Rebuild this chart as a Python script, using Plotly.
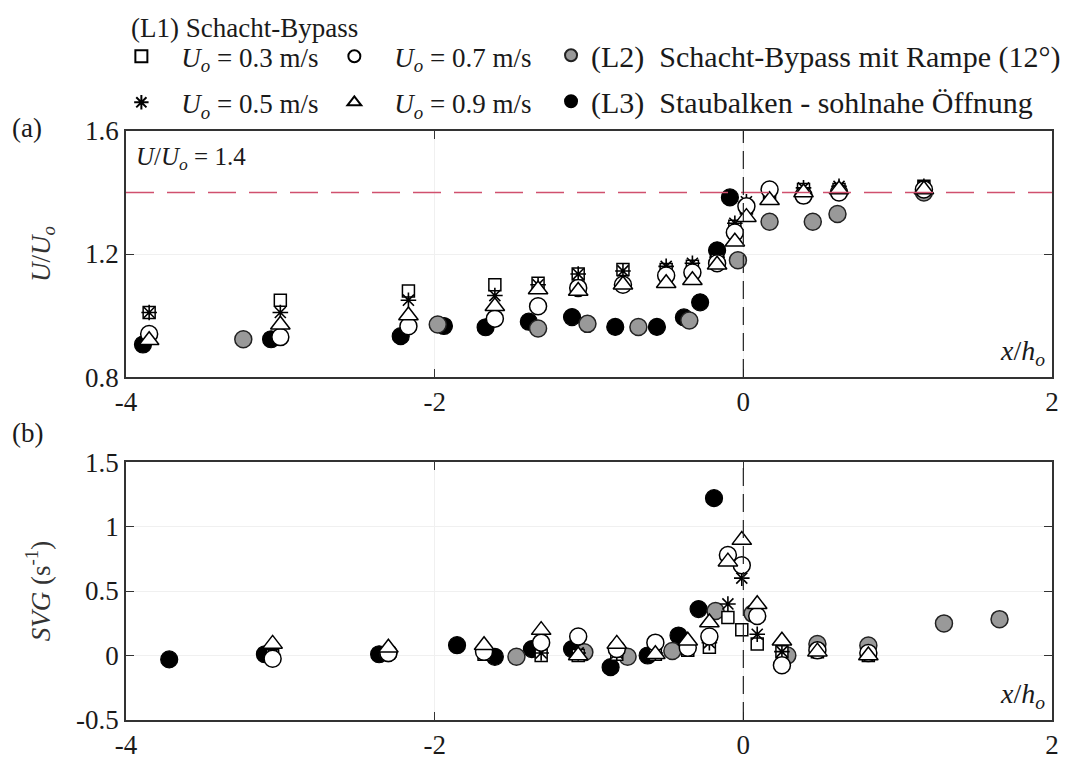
import plotly.graph_objects as go

# ---------------- data ----------------
# Panel (a): U/Uo vs x/ho
xa_L1 = [-3.85, -3.0, -2.17, -1.61, -1.33, -1.07, -0.78, -0.50, -0.33, -0.17, -0.055, 0.02, 0.17, 0.39, 0.62, 1.17]
ua_03 = [1.01, 1.05, 1.08, 1.10, 1.105, 1.135, 1.15, 1.15, 1.16, 1.18, 1.29, 1.35, 1.40, 1.41, 1.41, 1.42]
ua_05 = [1.01, 1.01, 1.05, 1.065, 1.10, 1.135, 1.145, 1.16, 1.17, 1.19, 1.30, 1.37, 1.40, 1.415, 1.42, 1.42]
ua_07 = [0.94, 0.93, 0.965, 0.99, 1.03, 1.09, 1.10, 1.13, 1.14, 1.17, 1.27, 1.355, 1.41, 1.39, 1.40, 1.41]
ua_09 = [0.92, 0.97, 1.00, 1.03, 1.085, 1.08, 1.10, 1.105, 1.115, 1.165, 1.24, 1.32, 1.375, 1.40, 1.41, 1.41]

xa_L2 = [-3.24, -1.98, -1.33, -1.01, -0.68, -0.35, -0.035, 0.17, 0.45, 0.61, 1.17]
ua_L2 = [0.923, 0.971, 0.958, 0.973, 0.963, 0.984, 1.18, 1.305, 1.305, 1.33, 1.40]

xa_L3 = [-3.89, -3.06, -2.22, -1.94, -1.67, -1.39, -1.11, -0.83, -0.56, -0.385, -0.28, -0.17, -0.087]
ua_L3 = [0.906, 0.923, 0.933, 0.966, 0.962, 0.98, 0.995, 0.963, 0.963, 0.994, 1.043, 1.212, 1.384]

# Panel (b): SVG vs x/ho
xb_L1 = [-3.05, -2.30, -1.68, -1.31, -1.07, -0.82, -0.57, -0.36, -0.22, -0.10, -0.01, 0.09, 0.25, 0.48, 0.81]
svg_03 = [0.0, 0.02, 0.01, 0.0, 0.0, 0.01, 0.01, 0.04, 0.065, 0.295, 0.20, 0.09, 0.03, 0.03, 0.0]
svg_05 = [0.01, 0.03, 0.02, 0.02, 0.02, 0.02, 0.02, 0.06, 0.10, 0.40, 0.60, 0.165, 0.03, 0.04, 0.02]
svg_07 = [-0.025, 0.02, 0.03, 0.10, 0.148, 0.05, 0.10, 0.06, 0.148, 0.78, 0.70, 0.307, -0.076, 0.04, 0.02]
svg_09 = [0.09, 0.06, 0.08, 0.197, 0.0, 0.09, 0.01, 0.115, 0.256, 0.728, 0.895, 0.397, 0.115, 0.03, 0.0]

xb_L2 = [-2.30, -1.47, -1.03, -0.75, -0.46, -0.18, 0.06, 0.285, 0.48, 0.81, 1.30, 1.66]
svg_L2 = [0.02, -0.01, 0.025, -0.01, 0.035, 0.345, 0.325, 0.0, 0.09, 0.077, 0.249, 0.282]

xb_L3 = [-3.72, -3.10, -2.36, -1.855, -1.61, -1.37, -1.11, -0.86, -0.62, -0.42, -0.29, -0.19]
svg_L3 = [-0.03, 0.01, 0.01, 0.08, -0.01, 0.05, 0.05, -0.09, 0.0, 0.155, 0.36, 1.22]

x_ticks = [-4, -2, 0, 2]
x_ticktext = ["-4", "-2", "0", "2"]
ya_ticks = [0.8, 1.2, 1.6]
yb_ticks = [-0.5, 0, 0.5, 1, 1.5]
yb_ticktext = ["-0.5", "0", "0.5", "1", "1.5"]
ref_ratio = 1.4

# ---------------- styling ----------------
FONT = "Liberation Serif, Times New Roman, serif"
TXT = "#1a1a1a"

series = [
    # name, xa, ya, xb, yb, marker, legend, rank
    ("(L3)  Staubalken - sohlnahe Öffnung", xa_L3, ua_L3, xb_L3, svg_L3,
     dict(symbol="circle", size=17, color="black", line=dict(color="black", width=1.2)), "legend3", 2),
    ("(L2)  Schacht-Bypass mit Rampe (12°)", xa_L2, ua_L2, xb_L2, svg_L2,
     dict(symbol="circle", size=17, color="#999999", line=dict(color="#222222", width=1.5)), "legend3", 1),
    ("<i>U</i><sub><i>o</i></sub> = 0.3 m/s", xa_L1, ua_03, xb_L1, svg_03,
     dict(symbol="square", size=12, color="white", line=dict(color="black", width=1.5)), "legend", 1),
    ("<i>U</i><sub><i>o</i></sub> = 0.5 m/s", xa_L1, ua_05, xb_L1, svg_05,
     dict(symbol="asterisk-open", size=13, color="black", line=dict(color="black", width=1.6)), "legend", 2),
    ("<i>U</i><sub><i>o</i></sub> = 0.7 m/s", xa_L1, ua_07, xb_L1, svg_07,
     dict(symbol="circle", size=17, color="white", line=dict(color="black", width=1.5)), "legend2", 1),
    ("<i>U</i><sub><i>o</i></sub> = 0.9 m/s", xa_L1, ua_09, xb_L1, svg_09,
     dict(symbol="triangle-up", size=17, color="white", line=dict(color="black", width=1.5)), "legend2", 2),
]

fig = go.Figure()
for i, (name, xa, ya, xb, yb, mk, lg, rk) in enumerate(series):
    fig.add_trace(go.Scatter(x=xa, y=ya, mode="markers", name=name, marker=mk,
                             xaxis="x", yaxis="y", legend=lg, legendrank=rk,
                             legendgroup="g%d" % i, showlegend=True))
    fig.add_trace(go.Scatter(x=xb, y=yb, mode="markers", name=name, marker=mk,
                             xaxis="x2", yaxis="y2", legendgroup="g%d" % i, showlegend=False))

axis_common = dict(
    showline=True, linecolor="#333333", linewidth=1.5, mirror="ticks",
    ticks="inside", ticklen=8, tickwidth=1.2, tickcolor="#333333",
    showgrid=True, gridcolor="#f0f0f0", gridwidth=1, zeroline=False,
    tickfont=dict(family=FONT, size=27, color=TXT),
)

legend_common = dict(xanchor="left", yanchor="top", orientation="v", bgcolor="rgba(0,0,0,0)",
                     itemsizing="constant", traceorder="grouped")

fig.update_layout(
    width=1070, height=764,
    paper_bgcolor="white", plot_bgcolor="white",
    margin=dict(l=118, r=13, t=123, b=45),
    font=dict(family=FONT, color=TXT),
    xaxis=dict(axis_common, domain=[0, 1], anchor="y", range=[-4, 2], tickvals=x_ticks, ticktext=x_ticktext),
    yaxis=dict(axis_common, domain=[0.5822, 1], anchor="x", range=[0.8, 1.6], tickvals=ya_ticks,
               ticktext=["0.8", "1.2", "1.6"],
               title=dict(text="<i>U</i>/<i>U</i><sub><i>o</i></sub>", font=dict(family=FONT, size=27, color="#333333"), standoff=27)),
    xaxis2=dict(axis_common, domain=[0, 1], anchor="y2", range=[-4, 2], tickvals=x_ticks, ticktext=x_ticktext),
    yaxis2=dict(axis_common, domain=[0, 0.4379], anchor="x2", range=[-0.5, 1.5], tickvals=yb_ticks,
                ticktext=yb_ticktext,
                title=dict(text="<i>SVG</i> (s<sup>-1</sup>)", font=dict(family=FONT, size=27, color="#333333"), standoff=18)),
    legend=dict(legend_common, x=-0.0266, y=1.1678, font=dict(family=FONT, size=27, color=TXT),
                tracegroupgap=8, itemwidth=70),
    legend2=dict(legend_common, x=0.2034, y=1.1678, font=dict(family=FONT, size=27, color=TXT),
                 tracegroupgap=8, itemwidth=70),
    legend3=dict(legend_common, x=0.459, y=1.1728, font=dict(family=FONT, size=30, color=TXT),
                 tracegroupgap=4),
    showlegend=True,
)

# reference lines
fig.add_shape(type="line", xref="x", yref="y", x0=-4, x1=2, y0=ref_ratio, y1=ref_ratio,
              line=dict(color="#d0506e", width=1.5, dash="28px,13px"))
for xr, yr in [("x", "y domain"), ("x2", "y2 domain")]:
    fig.add_shape(type="line", xref=xr, yref=yr, x0=0, x1=0, y0=0, y1=1,
                  line=dict(color="#222222", width=1.2, dash="18px,8px"))

# annotations
ann_font = dict(family=FONT, size=27, color=TXT)
fig.add_annotation(xref="paper", yref="paper", x=0.003, y=1.1745, xanchor="left", yanchor="middle",
                   text="(L1) Schacht-Bypass", showarrow=False, font=ann_font)
fig.add_annotation(xref="paper", yref="paper", x=-0.125, y=1.005, xanchor="left", yanchor="middle",
                   text="(a)", showarrow=False, font=ann_font)
fig.add_annotation(xref="paper", yref="paper", x=-0.125, y=0.487, xanchor="left", yanchor="middle",
                   text="(b)", showarrow=False, font=ann_font)
fig.add_annotation(xref="x", yref="y", x=-3.95, y=1.51, xanchor="left", yanchor="middle",
                   text="<i>U</i>/<i>U</i><sub><i>o</i></sub> = 1.4", showarrow=False, font=dict(family=FONT, size=25, color=TXT))
fig.add_annotation(xref="x", yref="y", x=1.97, y=0.815, xanchor="right", yanchor="bottom",
                   text="<i>x</i>/<i>h</i><sub><i>o</i></sub>", showarrow=False, font=dict(family=FONT, size=28, color=TXT))
fig.add_annotation(xref="x2", yref="y2", x=1.97, y=-0.46, xanchor="right", yanchor="bottom",
                   text="<i>x</i>/<i>h</i><sub><i>o</i></sub>", showarrow=False, font=dict(family=FONT, size=28, color=TXT))

fig.write_html("out.html")
